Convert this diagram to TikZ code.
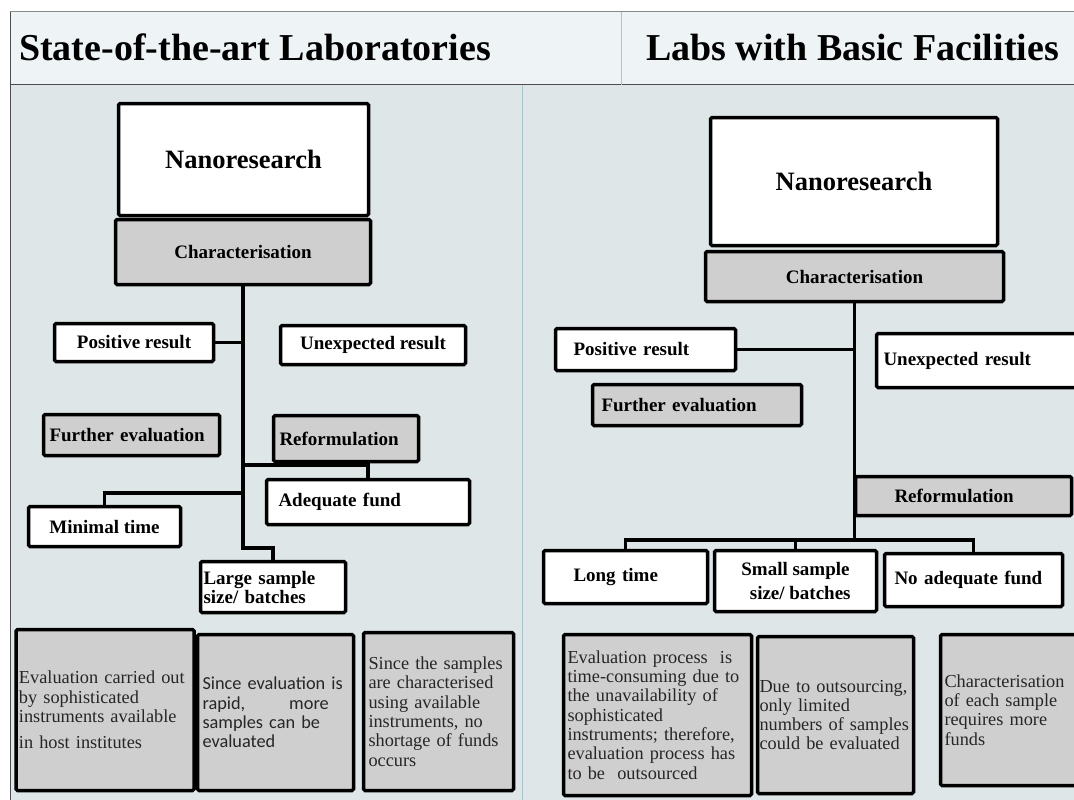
\documentclass[tikz,border=0pt]{standalone}
\usepackage{fontspec}
\setmainfont{Liberation Serif}
\newfontfamily\calibri{Carlito}
\usepackage{tikz}
\usetikzlibrary{positioning}
\definecolor{headbg}{HTML}{EEF4F5}
\definecolor{bodybg}{HTML}{DEE6E8}
\definecolor{boxgray}{HTML}{CFCFCF}
\definecolor{rulegray}{HTML}{8A8A8A}
\definecolor{divider}{HTML}{A9C6CA}
\newcommand\titlefont{\fontsize{38}{40}\selectfont\bfseries}
\newcommand\nanofont{\fontsize{26.5}{28}\selectfont\bfseries}
\newcommand\lblfont{\fontsize{19}{22}\selectfont\bfseries}
\newcommand\notefont{\fontsize{18.3}{19.3}\selectfont}

\begin{document}
\begin{tikzpicture}[x=1pt, y=-1pt,
		box/.style={draw=black, line width=3.5pt, rounded corners=1.5pt, fill=white, inner sep=0pt, align=center, font=\lblfont},
		gbox/.style={box, fill=boxgray},
		note/.style={gbox, align=left, text=black!85, font=\notefont},
		link/.style={line width=3.5pt}]
		\useasboundingbox (0,0) rectangle (1074,800);
		\clip (0,0) rectangle (1074,800);
		\fill [headbg] (10,12) rectangle (1074,85);
		\fill [bodybg] (10,85) rectangle (1074,800);
		\draw [line width=1pt, rulegray] (10,12) -- (1074,12);
		\draw [line width=1pt, black!70] (10,85) -- (1074,85);
		\draw [line width=1pt, black!70] (10,12) -- (10,800);
		\draw [line width=1pt, divider] (621,12) -- (621,85);
		\draw [line width=1pt, divider] (522,85) -- (522,800);
		\node [anchor=base west, inner sep=0pt, font=\titlefont](head1) at (19,60) {State-of-the-art Laboratories};
		\node [anchor=base west, inner sep=0pt, font=\titlefont](head2) at (646,60) {Labs with Basic Facilities};
		\node [box, font=\nanofont, minimum width=250pt, minimum height=112pt](nano1) at (243.5,159.5) {Nanoresearch};
		\node [gbox, minimum width=255pt, minimum height=65pt](char1) at (243,252) {Characterisation};
		\node [box, minimum width=159pt, minimum height=38pt](pos1) at (134,342.5) {Positive result};
		\node [box, minimum width=185pt, minimum height=39pt](unexp1) at (373,345) {Unexpected result};
		\node [gbox, minimum width=176pt, minimum height=41pt, text width=164pt, align=left](furth1) at (131.5,435) {Further evaluation};
		\node [gbox, minimum width=145pt, minimum height=46pt, text width=133pt, align=left](reform1) at (346,438.5) {Reformulation};
		\node [box, minimum width=203pt, minimum height=45pt, text width=179pt, align=left](adeq1) at (368,502) {Adequate fund};
		\node [box, minimum width=152pt, minimum height=40pt](minimal1) at (104.5,526.5) {Minimal time};
		\node [box, minimum width=145pt, minimum height=51pt, text width=139pt, align=left](large1) at (273,587) {Large sample\\[-3pt]size/ batches};
		\node [note, minimum width=178pt, minimum height=161pt, text width=172pt](eval1) at (105,710) {Evaluation\ carried out\\by\ sophisticated\\instruments available\\[7pt]in host institutes};
		\node [note, font=\notefont\calibri, minimum width=156pt, minimum height=156pt, text width=146pt](rapid1) at (275.5,712.5) {Since evaluation is\\rapid,\hspace{44pt}more\\samples can be\\evaluated};
		\node [note, minimum width=150pt, minimum height=158pt, text width=140pt](fund1) at (438.5,711.5) {Since the samples\\are characterised\\using available\\instruments, no\\shortage of funds\\occurs};
		\coordinate (a1) at (243,465);
		\coordinate (a2) at (243,493);
		\coordinate (a3) at (243,548);
		\draw [link] (char1.south) -- (a3) -| (large1.north);
		\draw [link] (pos1.east) -- (pos1.east -| a1);
		\draw [link] (a1) -| (adeq1.north);
		\draw [link] (a2) -| (minimal1.north);
		\node [box, font=\nanofont, minimum width=287pt, minimum height=128pt](nano2) at (854,181.5) {Nanoresearch};
		\node [gbox, minimum width=298pt, minimum height=50pt](char2) at (854.5,276.5) {Characterisation};
		\node [box, minimum width=180pt, minimum height=42pt, text width=144pt, align=left](pos2) at (645.5,349.5) {Positive result};
		\node [box, minimum width=207pt, minimum height=54pt, text width=193pt, align=left](unexp2) at (980,360.5) {Unexpected result};
		\node [gbox, minimum width=209pt, minimum height=41pt, text width=191pt, align=left](furth2) at (697,405) {Further evaluation};
		\node [gbox, minimum width=216pt, minimum height=39pt, text width=138pt, align=left](reform2) at (963.5,496) {Reformulation};
		\node [box, minimum width=164pt, minimum height=53pt, text width=104pt, align=left](long2) at (625.5,577) {Long time};
		\node [box, minimum width=162pt, minimum height=61pt](small2) at (795.5,581) {Small sample\\[2pt]\ \ size/ batches};
		\node [box, minimum width=178pt, minimum height=53pt, text width=158pt, align=left](noadeq2) at (973.5,580) {No adequate fund};
		\node [note, minimum width=188pt, minimum height=161pt, text width=180pt](eval2) at (657.5,715) {Evaluation process\ \ is\\time-consuming due to\\the unavailability of\\sophisticated\\instruments; therefore,\\evaluation process has\\to be\ \ outsourced};
		\node [note, minimum width=156pt, minimum height=157pt, text width=152pt](limit2) at (835.5,715) {Due to outsourcing,\\only limited\\numbers of samples\\could be evaluated};
		\node [note, minimum width=143pt, minimum height=151pt, text width=135pt](fund2) at (1012,710) {Characterisation\\of each sample\\requires more\\funds};
		\coordinate (c1) at (854.5,540);
		\draw [link] (char2.south) -- (c1);
		\draw [link] (pos2.east) -- (pos2.east -| c1);
		\draw [link] (long2.north) |- (c1) -| (noadeq2.north);
		\draw [link] (small2.north) -- (small2.north |- c1);
\end{tikzpicture}
\end{document}
